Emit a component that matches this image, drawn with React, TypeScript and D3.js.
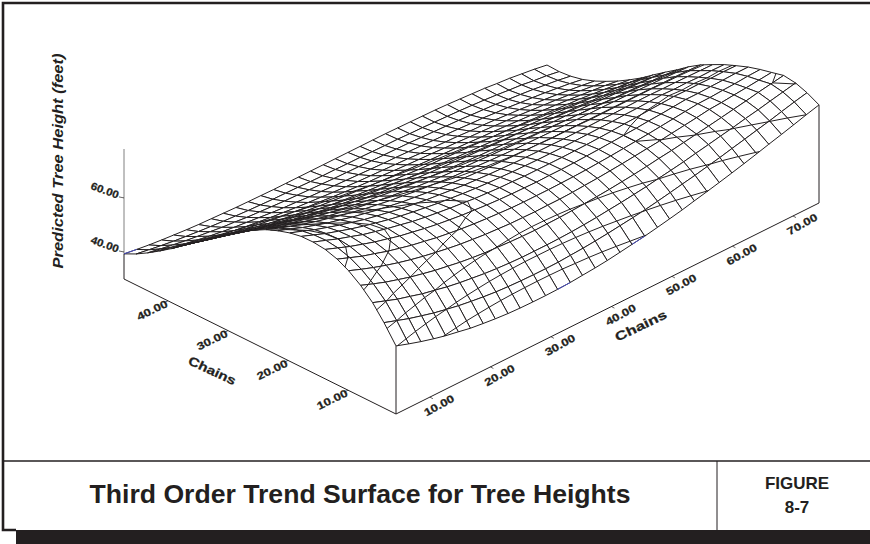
import React from "react";
import * as d3 from "d3";

const xNodes = [4.4,6.5,8.5,10.6,12.6,14.7,16.7,18.8,20.8,22.9,24.9,27.0,29.1,31.1,33.2,35.2,37.3,39.3,41.4,43.4,45.5,47.6,49.6,51.7,53.7,55.8,57.8,59.9,61.9,64.0,66.0,68.1,70.1,72.2,74.3];
const yNodes = [2,4,5.9,7.9,9.9,11.8,13.8,15.8,17.8,19.7,21.7,23.7,25.6,27.6,29.6,31.5,33.5,35.5,37.5,39.4,41.4,43.4,45.3,47.33];
const heights = [
[55.2,53.6,52.2,50.9,49.8,48.9,48.0,47.4,46.9,46.5,46.3,46.2,46.2,46.3,46.5,46.9,47.3,47.8,48.5,49.2,49.9,50.8,51.7,52.7,53.8,54.9,56.0,57.2,58.4,59.7,61.0,62.3,63.6,65.0,66.3],
[61.6,60.0,58.5,57.2,56.0,55.0,54.1,53.4,52.8,52.3,52.0,51.8,51.7,51.7,51.8,52.1,52.4,52.8,53.3,53.9,54.5,55.2,56.0,56.9,57.8,58.7,59.7,60.7,61.8,62.9,64.0,65.1,66.3,67.5,68.6],
[66.9,65.2,63.6,62.3,61.0,60.0,59.0,58.2,57.6,57.0,56.6,56.3,56.1,56.1,56.1,56.2,56.4,56.7,57.1,57.6,58.1,58.7,59.3,60.1,60.8,61.6,62.5,63.4,64.3,65.2,66.2,67.1,68.1,69.1,70.1],
[71.1,69.3,67.7,66.3,65.0,63.9,62.9,62.1,61.3,60.7,60.2,59.9,59.6,59.4,59.3,59.4,59.5,59.7,60.0,60.3,60.7,61.2,61.7,62.3,63.0,63.6,64.3,65.1,65.8,66.6,67.4,68.2,69.1,69.9,70.7],
[74.3,72.5,70.9,69.4,68.1,66.9,65.9,65.0,64.2,63.5,63.0,62.5,62.2,61.9,61.8,61.7,61.8,61.8,62.0,62.3,62.6,63.0,63.4,63.9,64.4,64.9,65.5,66.1,66.7,67.4,67.7,68.2,68.6,69.1,69.6],
[76.5,74.7,73.0,71.6,70.2,69.0,67.9,67.0,66.1,65.4,64.8,64.3,63.9,63.6,63.3,63.2,63.2,63.2,63.3,63.4,63.6,63.9,64.2,64.6,65.0,65.4,65.9,66.4,66.9,67.4,67.5,67.8,68.0,68.4,68.6],
[77.9,76.1,74.4,72.9,71.5,70.3,69.1,68.2,67.3,66.5,65.9,65.3,64.9,64.5,64.2,64.0,63.9,63.8,63.9,63.9,64.0,64.2,64.4,64.7,65.0,65.3,65.7,66.0,66.4,66.8,66.8,67.0,67.1,67.3,67.3],
[78.4,76.7,75.0,73.5,72.0,70.8,69.7,68.7,67.7,66.9,66.3,65.7,65.2,64.7,64.4,64.1,64.0,63.8,63.8,63.8,63.8,63.9,64.0,64.2,64.4,64.7,64.9,65.2,65.4,65.7,65.6,65.7,65.6,65.7,65.6],
[78.3,76.5,74.8,73.3,71.9,70.6,69.5,68.4,67.5,66.7,66.0,65.3,64.8,64.3,63.9,63.6,63.4,63.2,63.1,63.0,63.0,63.0,63.1,63.2,63.3,63.4,63.6,63.7,63.9,64.1,63.9,64.0,63.8,63.9,63.8],
[77.5,75.8,74.1,72.6,71.2,69.9,68.7,67.7,66.8,65.9,65.2,64.5,64.0,63.5,63.0,62.7,62.4,62.2,62.0,61.9,61.8,61.8,61.7,61.8,61.8,61.9,61.9,62.0,62.1,62.1,62.0,62.0,61.9,61.8,61.7],
[76.1,74.4,72.7,71.2,69.8,68.6,67.4,66.4,65.4,64.6,63.8,63.2,62.6,62.0,61.6,61.2,60.9,60.6,60.4,60.2,60.1,60.0,59.9,59.9,59.9,59.8,59.8,59.8,59.8,59.8,59.8,59.7,59.7,59.6,59.4],
[74.3,72.5,70.9,69.4,68.1,66.9,65.7,64.7,63.7,62.9,62.1,61.5,60.8,60.3,59.8,59.4,59.1,58.8,58.5,58.3,58.1,58.0,57.9,57.8,57.7,57.6,57.5,57.5,57.4,57.3,57.2,57.0,56.9,56.7,56.5],
[72.0,70.3,68.7,67.3,65.9,64.7,63.6,62.6,61.6,60.8,60.1,59.4,58.8,58.2,57.7,57.3,57.0,56.6,56.4,56.1,55.9,55.7,55.5,55.4,55.3,55.1,55.0,54.9,54.7,54.5,54.4,54.2,53.9,53.7,53.3],
[69.3,67.7,66.2,64.7,63.4,62.3,61.2,60.2,59.3,58.5,57.7,57.1,56.4,55.9,55.4,55.0,54.6,54.3,54.0,53.7,53.5,53.3,53.1,52.9,52.7,52.5,52.4,52.2,52.0,51.7,51.5,51.2,50.9,50.6,50.2],
[66.3,64.8,63.3,61.9,60.7,59.6,58.5,57.6,56.7,55.9,55.2,54.5,53.9,53.4,52.9,52.5,52.1,51.8,51.5,51.2,51.0,50.7,50.5,50.3,50.1,49.9,49.6,49.4,49.2,48.8,48.6,48.2,47.8,47.5,47.0],
[63.2,61.7,60.3,59.0,57.8,56.7,55.7,54.8,54.0,53.2,52.5,51.9,51.3,50.8,50.4,50.0,49.6,49.3,49.0,48.7,48.4,48.2,47.9,47.7,47.4,47.2,46.9,46.7,46.4,46.0,45.7,45.3,44.8,44.4,43.8],
[59.9,58.5,57.2,55.9,54.8,53.8,52.8,52.0,51.2,50.5,49.8,49.2,48.7,48.2,47.8,47.4,47.1,46.7,46.4,46.2,45.9,45.7,45.4,45.1,44.9,44.6,44.3,44.0,43.7,43.3,43.0,42.5,42.0,41.5,40.9],
[56.6,55.2,54.0,52.8,51.8,50.8,49.9,49.1,48.4,47.7,47.1,46.6,46.1,45.7,45.2,44.9,44.6,44.3,44.0,43.7,43.5,43.2,43.0,42.7,42.5,42.2,41.9,41.6,41.2,40.8,40.4,39.9,39.4,38.9,38.2],
[53.2,52.0,50.8,49.7,48.8,47.9,47.1,46.4,45.7,45.1,44.5,44.1,43.6,43.2,42.8,42.5,42.3,42.0,41.7,41.5,41.3,41.0,40.8,40.5,40.3,40.0,39.7,39.4,39.0,38.6,38.2,37.7,37.1,36.5,35.9],
[50.0,48.9,47.8,46.8,45.9,45.1,44.4,43.8,43.2,42.7,42.2,41.8,41.4,41.0,40.7,40.4,40.2,40.0,39.8,39.6,39.3,39.1,38.9,38.7,38.4,38.2,37.9,37.5,37.2,36.7,36.3,35.8,35.2,34.6,33.9],
[46.9,45.9,44.9,44.0,43.2,42.5,41.9,41.4,40.9,40.4,40.0,39.7,39.3,39.1,38.8,38.6,38.4,38.2,38.0,37.9,37.7,37.5,37.3,37.1,36.9,36.6,36.4,36.0,35.7,35.2,34.8,34.3,33.7,33.1,32.3],
[44.0,43.1,42.3,41.5,40.9,40.3,39.7,39.3,38.8,38.5,38.2,37.9,37.7,37.5,37.3,37.1,37.0,36.9,36.7,36.6,36.5,36.4,36.2,36.0,35.8,35.6,35.3,35.0,34.7,34.2,33.8,33.3,32.7,32.1,31.3],
[41.5,40.7,40.0,39.3,38.8,38.3,37.9,37.5,37.2,36.9,36.7,36.5,36.4,36.3,36.1,36.0,36.0,35.9,35.9,35.8,35.7,35.7,35.5,35.4,35.2,35.0,34.8,34.5,34.2,33.8,33.3,32.9,32.2,31.7,30.9],
[39.3,38.6,38.0,37.5,37.1,36.7,36.4,36.2,36.0,35.8,35.7,35.6,35.5,35.5,35.5,35.5,35.5,35.5,35.5,35.5,35.5,35.5,35.4,35.3,35.2,35.1,34.9,34.6,34.3,34.0,33.5,33.1,32.5,31.9,31.1],
];
const contourLevels = [45,50,55,60,65,70,75];
const xTicks = [10,20,30,40,50,60,70];
const yTicks = [10,20,30,40];
const zTicks = [40,60];
// grid edges (row, column) printed blue in the source
const blueEdges = [[0,13],[0,19],[23,0]];

const INK = "#231f20";
const ox = 396, oy = 414;
const ax = 423, ay = 211, bx = 272, by = 135;
const uScale = d3.scaleLinear().domain([4.4, 74.3]).range([0, 1]);
const vScale = d3.scaleLinear().domain([2, 47.33]).range([0, 1]);
const hScale = d3.scaleLinear().domain([30, 78.1]).range([0, 130]);
const project = (x: number, y: number, z: number): [number, number] => {
  const u = uScale(x), v = vScale(y);
  return [ox + ax * u - bx * v, oy - ay * u - by * v - hScale(z)];
};
const line = d3.line();
const fmt = (n: number) => n.toFixed(2);

type Pt3 = [number, number, number];
function crossing(a: Pt3, b: Pt3, t: number): Pt3 | null {
  if ((a[2] < t) === (b[2] < t)) return null;
  const k = (t - a[2]) / (b[2] - a[2]);
  return [a[0] + k * (b[0] - a[0]), a[1] + k * (b[1] - a[1]), t];
}

function Cells() {
  const out: React.ReactNode[] = [];
  for (let j = yNodes.length - 2; j >= 0; j--) {
    for (let i = xNodes.length - 2; i >= 0; i--) {
      const c: Pt3[] = [
        [xNodes[i], yNodes[j], heights[j][i]],
        [xNodes[i + 1], yNodes[j], heights[j][i + 1]],
        [xNodes[i + 1], yNodes[j + 1], heights[j + 1][i + 1]],
        [xNodes[i], yNodes[j + 1], heights[j + 1][i]],
      ];
      const d = line(c.map((p) => project(p[0], p[1], p[2])))! + "Z";
      let contour = "";
      for (const t of contourLevels) {
        const pts: Pt3[] = [];
        for (let k = 0; k < 4; k++) {
          const q = crossing(c[k], c[(k + 1) % 4], t);
          if (q) pts.push(q);
        }
        if (pts.length === 2) contour += line(pts.map((p) => project(p[0], p[1], p[2])));
      }
      out.push(
        <g key={`${j}-${i}`}>
          <path d={d} fill="#fff" stroke={INK} strokeWidth={1} strokeLinejoin="round" />
          {contour && <path d={contour} fill="none" stroke={INK} strokeWidth={1} />}
        </g>
      );
    }
  }
  return <g>{out}</g>;
}

const Stretch = ({ x, y, r, w, size, children }: any) => (
  <text
    transform={`translate(${x},${y}) rotate(${r})`}
    textAnchor="middle"
    dominantBaseline="central"
    fontFamily="Liberation Sans, Arial, sans-serif"
    fontWeight="bold"
    fontSize={size}
    fill={INK}
    stroke={INK}
    strokeWidth={0.25}
    textLength={w}
    lengthAdjust="spacingAndGlyphs"
  >
    {children}
  </text>
);

export default function App() {
  const xMin = xNodes[0], xMax = xNodes[xNodes.length - 1];
  const yMin = yNodes[0], yMax = yNodes[yNodes.length - 1];
  const zBase = hScale.domain()[0], zTop = hScale.domain()[1];
  const corner = (x: number, y: number, z: number) => project(x, y, z);
  const lastJ = heights[0].length - 1;
  return (
    <svg
      width={870}
      height={544}
      viewBox="0 0 870 544"
      style={{ position: "absolute", left: 0, top: 0, background: "#fff" }}
    >
      {/* frame */}
      <path d="M870,3H3V530H16" fill="none" stroke={INK} strokeWidth={2.6} />
      <rect x={16} y={530} width={854} height={14} fill={INK} />
      <path d="M3,461H870" stroke={INK} strokeWidth={1.4} />
      <path d="M717,461V530" stroke={INK} strokeWidth={1} />
      <text x={360} y={503} textAnchor="middle" fontFamily="Liberation Sans, Arial, sans-serif" fontWeight="bold" fontSize={25} fill={INK} textLength={541} lengthAdjust="spacingAndGlyphs">
        Third Order Trend Surface for Tree Heights
      </text>
      <text x={797} y={489} textAnchor="middle" fontFamily="Liberation Sans, Arial, sans-serif" fontWeight="bold" fontSize={17} fill={INK}>FIGURE</text>
      <text x={797} y={513} textAnchor="middle" fontFamily="Liberation Sans, Arial, sans-serif" fontWeight="bold" fontSize={17} fill={INK}>8-7</text>

      {/* base */}
      <path d={line([corner(xMin, yMax, zBase), corner(xMin, yMin, zBase), corner(xMax, yMin, zBase)])!} fill="none" stroke={INK} strokeWidth={1} />
      <path d={line([corner(xMin, yMin, zBase), corner(xMin, yMin, heights[0][0])])!} stroke={INK} strokeWidth={1} />
      <path d={line([corner(xMax, yMin, zBase), corner(xMax, yMin, heights[0][lastJ])])!} stroke={INK} strokeWidth={1} />
      <path d={line([corner(xMin, yMax, zBase), corner(xMin, yMax, heights[23][0])])!} stroke={INK} strokeWidth={1} />
      <path d={line([corner(xMin, yMax, heights[23][0]), corner(xMin, yMax, zTop)])!} stroke="#808080" strokeWidth={1} />

      {/* ticks */}
      {xTicks.map((t) => {
        const [px, py] = corner(t, yMin, zBase);
        return (
          <g key={t}>
            <path d={`M${px},${py}l3,1.6`} stroke={INK} strokeWidth={0.7} />
            <Stretch x={px + 9} y={py + 8} r={-29} w={33} size={10.5}>{fmt(t)}</Stretch>
          </g>
        );
      })}
      {yTicks.map((t) => {
        const [px, py] = corner(xMin, t, zBase);
        return (
          <g key={t}>
            <path d={`M${px},${py}l-4,2`} stroke={INK} strokeWidth={0.7} />
            <Stretch x={px - 16} y={py + 9} r={-26} w={33} size={10.5}>{fmt(t)}</Stretch>
          </g>
        );
      })}
      {zTicks.map((t) => {
        const [px, py] = corner(xMin, yMax, t);
        return (
          <g key={t}>
            <path d={`M${px},${py}l-5,-1`} stroke={INK} strokeWidth={0.7} />
            <Stretch x={px - 19} y={py - 8} r={20} w={29} size={10.5}>{fmt(t)}</Stretch>
          </g>
        );
      })}
      <Stretch x={212} y={371} r={25} w={51} size={12.5}>Chains</Stretch>
      <Stretch x={641} y={326} r={-26} w={56} size={12.5}>Chains</Stretch>
      <text
        transform="translate(63,161) rotate(-90)"
        textAnchor="middle"
        fontFamily="Liberation Sans, Arial, sans-serif"
        fontWeight="bold"
        fontStyle="italic"
        fontSize={15.5}
        fill={INK}
        textLength={215}
        lengthAdjust="spacingAndGlyphs"
      >
        Predicted Tree Height (feet)
      </text>

      <Cells />
      {blueEdges.map(([j, i]) => (
        <path
          key={`${j}-${i}`}
          d={line([project(xNodes[i], yNodes[j], heights[j][i]), project(xNodes[i + 1], yNodes[j], heights[j][i + 1])])!}
          stroke="#4a4fc0"
          strokeWidth={1}
        />
      ))}
    </svg>
  );
}
